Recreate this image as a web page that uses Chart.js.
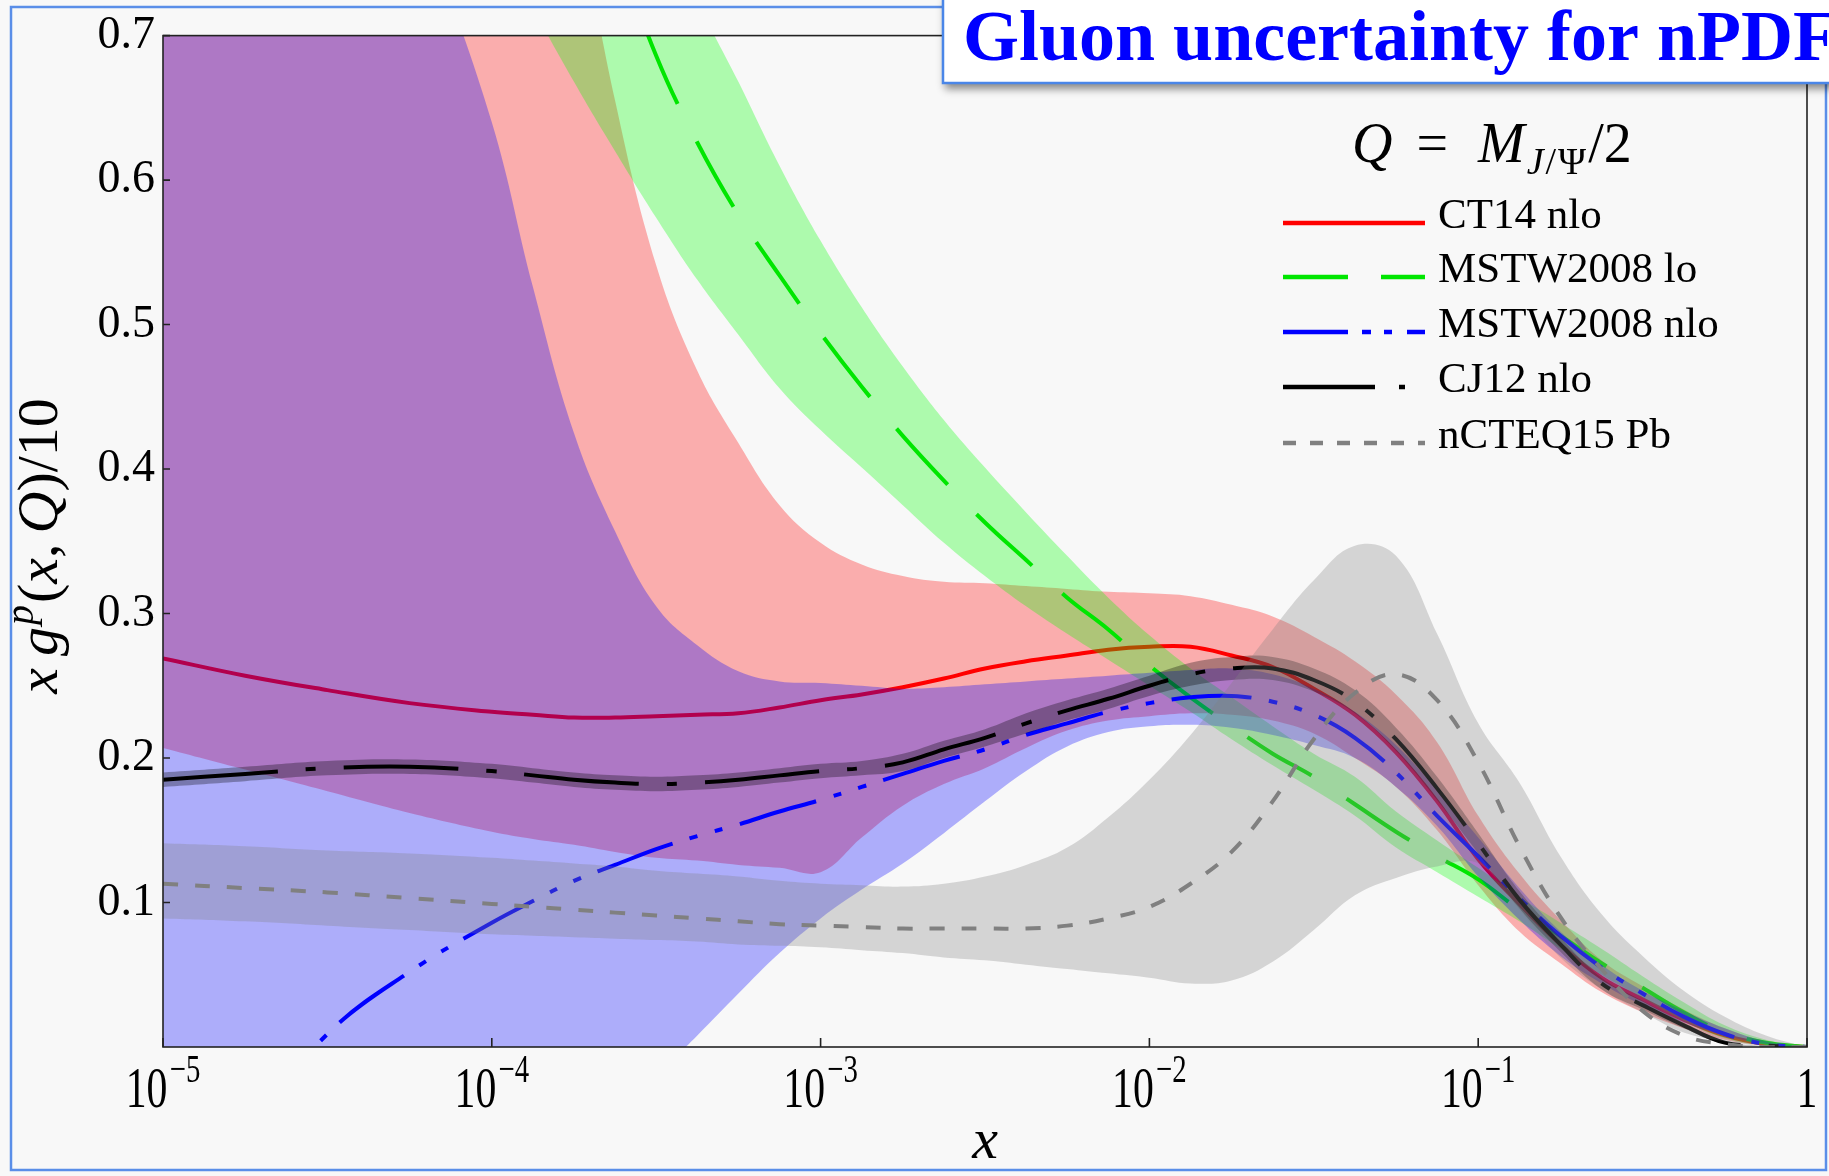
<!DOCTYPE html>
<html>
<head>
<meta charset="utf-8">
<title>Gluon uncertainty for nPDF</title>
<script src="https://cdn.jsdelivr.net/npm/chart.js@4.4.1/dist/chart.umd.min.js"></script>
<style>
  html, body { margin: 0; padding: 0; background: #f8f8f8; }
  #wrap { width: 1829px; height: 1176px; }
</style>
</head>
<body>
<div id="wrap"><canvas id="gluonChart" width="1829" height="1176"></canvas></div>
<script>
// x grid (momentum fraction), values at each x
const xGrid = [1e-5, 1.778e-5, 3.162e-5, 5.623e-5, 1e-4,
  1.334e-4, 1.778e-4, 2.371e-4, 3.162e-4, 4.217e-4, 5.623e-4, 7.499e-4, 1e-3,
  1.334e-3, 1.778e-3, 2.371e-3, 3.162e-3, 4.217e-3, 5.623e-3, 7.499e-3, 0.01,
  0.01334, 0.01778, 0.02371, 0.03162, 0.04217, 0.05623, 0.07499, 0.1,
  0.1334, 0.1778, 0.2371, 0.3162, 0.4217, 0.5623, 0.7499, 1];

const ct14 = [0.269, 0.257, 0.247, 0.238, 0.232,
  0.230, 0.228, 0.228, 0.229, 0.230, 0.231, 0.235, 0.240,
  0.244, 0.249, 0.255, 0.262, 0.267, 0.271, 0.275, 0.277,
  0.277, 0.271, 0.263, 0.248, 0.230, 0.204, 0.170, 0.130,
  0.099, 0.071, 0.048, 0.033, 0.019, 0.008, 0.002, 0];
const ct14Hi = [2.0, 1.75, 1.5, 1.28, 1.08,
  0.93, 0.80, 0.655, 0.541, 0.468, 0.418, 0.375, 0.349,
  0.334, 0.326, 0.322, 0.321, 0.319, 0.317, 0.315, 0.314,
  0.312, 0.306, 0.298, 0.284, 0.267, 0.244, 0.211, 0.160,
  0.120, 0.088, 0.060, 0.042, 0.026, 0.013, 0.004, 0];
const ct14Lo = [0.207, 0.192, 0.177, 0.162, 0.149,
  0.144, 0.140, 0.135, 0.131, 0.129, 0.126, 0.124, 0.121,
  0.145, 0.167, 0.182, 0.193, 0.207, 0.219, 0.226, 0.229,
  0.231, 0.230, 0.226, 0.217, 0.200, 0.180, 0.150, 0.112,
  0.080, 0.058, 0.038, 0.024, 0.013, 0.005, 0.001, 0];

const mstwLo = [2.2, 1.9, 1.6, 1.3, 1.06,
  0.95, 0.85, 0.765, 0.686, 0.626, 0.576, 0.534, 0.494,
  0.457, 0.423, 0.392, 0.363, 0.337, 0.311, 0.289, 0.264,
  0.242, 0.222, 0.203, 0.187, 0.168, 0.149, 0.132, 0.116,
  0.095, 0.077, 0.058, 0.041, 0.024, 0.010, 0.003, 0];
const mstwLoHi = [2.3, 2.0, 1.7, 1.42, 1.18,
  1.07, 0.97, 0.88, 0.80, 0.725, 0.668, 0.610, 0.558,
  0.512, 0.471, 0.434, 0.401, 0.370, 0.340, 0.311, 0.285,
  0.262, 0.242, 0.222, 0.203, 0.187, 0.163, 0.143, 0.124,
  0.104, 0.086, 0.068, 0.049, 0.031, 0.015, 0.005, 0];
const mstwLoLo = [1.35, 1.2, 1.05, 0.9, 0.78,
  0.72, 0.668, 0.62, 0.574, 0.531, 0.493, 0.456, 0.427,
  0.401, 0.375, 0.349, 0.326, 0.305, 0.286, 0.268, 0.250,
  0.232, 0.213, 0.195, 0.178, 0.160, 0.138, 0.121, 0.104,
  0.087, 0.068, 0.050, 0.034, 0.018, 0.006, 0.001, 0];

const mstwNlo = [-0.15, -0.06, 0.009, 0.052, 0.086,
  0.101, 0.115, 0.126, 0.137, 0.146, 0.154, 0.163, 0.171,
  0.180, 0.189, 0.198, 0.206, 0.216, 0.224, 0.232, 0.238,
  0.242, 0.243, 0.239, 0.230, 0.214, 0.190, 0.160, 0.132,
  0.103, 0.077, 0.055, 0.037, 0.021, 0.009, 0.002, 0];
const mstwNloHi = [1.6, 1.28, 1.02, 0.81, 0.64,
  0.526, 0.425, 0.357, 0.305, 0.278, 0.260, 0.253, 0.252,
  0.250, 0.248, 0.249, 0.251, 0.253, 0.255, 0.257, 0.259,
  0.261, 0.262, 0.258, 0.248, 0.232, 0.209, 0.178, 0.145,
  0.110, 0.080, 0.057, 0.039, 0.025, 0.013, 0.004, 0];
const mstwNloLo = [-0.36, -0.30, -0.25, -0.19, -0.133,
  -0.105, -0.077, -0.048, -0.02, 0.008, 0.037, 0.065, 0.089,
  0.109, 0.127, 0.148, 0.170, 0.191, 0.208, 0.218, 0.222,
  0.223, 0.221, 0.216, 0.209, 0.200, 0.180, 0.153, 0.118,
  0.088, 0.063, 0.044, 0.029, 0.017, 0.008, 0.002, 0];

const cj12 = [0.185, 0.189, 0.193, 0.194, 0.191,
  0.188, 0.185, 0.183, 0.182, 0.183, 0.185, 0.188, 0.191,
  0.193, 0.197, 0.206, 0.214, 0.224, 0.233, 0.241, 0.250,
  0.258, 0.262, 0.262, 0.254, 0.239, 0.213, 0.179, 0.141,
  0.102, 0.071, 0.044, 0.029, 0.015, 0.003, 0.001, 0];
const cj12Hi = [0.190, 0.194, 0.198, 0.199, 0.196,
  0.193, 0.190, 0.188, 0.187, 0.188, 0.190, 0.193, 0.196,
  0.198, 0.203, 0.212, 0.220, 0.231, 0.240, 0.248, 0.257,
  0.266, 0.270, 0.270, 0.262, 0.247, 0.221, 0.187, 0.148,
  0.108, 0.076, 0.048, 0.032, 0.017, 0.004, 0.001, 0];
const cj12Lo = [0.180, 0.184, 0.188, 0.189, 0.186,
  0.183, 0.180, 0.178, 0.177, 0.178, 0.180, 0.183, 0.186,
  0.188, 0.191, 0.200, 0.208, 0.217, 0.226, 0.234, 0.243,
  0.250, 0.254, 0.254, 0.246, 0.231, 0.205, 0.171, 0.134,
  0.096, 0.066, 0.040, 0.026, 0.013, 0.002, 0.001, 0];

const ncteq = [0.113, 0.110, 0.107, 0.103, 0.099,
  0.097, 0.095, 0.093, 0.091, 0.089, 0.087, 0.085, 0.084,
  0.083, 0.082, 0.082, 0.082, 0.082, 0.084, 0.089, 0.097,
  0.113, 0.135, 0.170, 0.213, 0.245, 0.258, 0.240, 0.197,
  0.139, 0.090, 0.054, 0.025, 0.008, 0.002, 0, 0];
const ncteqHi = [0.141, 0.139, 0.136, 0.134, 0.131,
  0.129, 0.127, 0.125, 0.122, 0.120, 0.118, 0.115, 0.113,
  0.112, 0.111, 0.113, 0.118, 0.126, 0.138, 0.159, 0.185,
  0.216, 0.252, 0.289, 0.323, 0.347, 0.340, 0.286, 0.224,
  0.183, 0.132, 0.092, 0.063, 0.039, 0.021, 0.008, 0];
const ncteqLo = [0.089, 0.087, 0.084, 0.081, 0.078,
  0.077, 0.076, 0.075, 0.074, 0.073, 0.071, 0.070, 0.069,
  0.067, 0.065, 0.062, 0.060, 0.057, 0.054, 0.051, 0.048,
  0.044, 0.046, 0.059, 0.081, 0.105, 0.117, 0.125, 0.127,
  0.095, 0.062, 0.040, 0.024, 0.010, 0.004, 0.001, 0];

const seriesNames = ["CT14 nlo", "MSTW2008 lo", "MSTW2008 nlo", "CJ12 nlo", "nCTEQ15 Pb"];
const xTickValues = [1e-5, 1e-4, 1e-3, 1e-2, 1e-1, 1];
const xTickExponents = ["5", "4", "3", "2", "1", ""];
const yTickValues = [0.1, 0.2, 0.3, 0.4, 0.5, 0.6, 0.7];

// styles, in drawing order (first one is at the bottom)
const styles = [
  { line: ct14, hi: ct14Hi, lo: ct14Lo, color: "#ff0000", band: "rgba(255,0,0,0.3)",
    dash: [], legendDash: [] },
  { line: mstwLo, hi: mstwLoHi, lo: mstwLoLo, color: "#00e600", band: "rgba(0,255,0,0.3)",
    dash: [75, 42], legendDash: [65, 33] },
  { line: mstwNlo, hi: mstwNloHi, lo: mstwNloLo, color: "#0000ff", band: "rgba(0,0,255,0.3)",
    dash: [80, 18, 8, 18, 8, 18], legendDash: [65, 14, 9, 13, 8, 15] },
  { line: cj12, hi: cj12Hi, lo: cj12Lo, color: "#000000", band: "rgba(0,0,0,0.3)",
    dash: [115, 28, 10, 28], legendDash: [92, 24, 6, 40] },
  { line: ncteq, hi: ncteqHi, lo: ncteqLo, color: "#808080", band: "rgba(128,128,128,0.3)",
    dash: [15, 17], legendDash: [13, 14] }
];

function toPoints(ys) {
  return xGrid.map((x, i) => ({ x: x, y: ys[i] }));
}

const datasets = [];
styles.forEach((s, k) => {
  const hiIndex = datasets.length;
  datasets.push({
    label: seriesNames[k] + " band",
    data: toPoints(s.hi),
    borderWidth: 0,
    borderColor: "transparent",
    backgroundColor: s.band,
    fill: hiIndex + 1,
    order: 50 - 2 * k
  });
  datasets.push({
    label: seriesNames[k] + " lower",
    data: toPoints(s.lo),
    borderWidth: 0,
    borderColor: "transparent",
    fill: false,
    order: 50 - 2 * k
  });
  datasets.push({
    label: seriesNames[k],
    data: toPoints(s.line),
    borderColor: s.color,
    borderWidth: 4,
    borderDash: s.dash,
    fill: false,
    order: 49 - 2 * k
  });
});

const SERIF = "'Liberation Serif', 'Times New Roman', serif";

function runsWidth(ctx, runs) {
  let w = 0;
  for (const r of runs) {
    ctx.font = r.font;
    w += (r.gap || 0) + ctx.measureText(r.t).width;
  }
  return w;
}

function drawRuns(ctx, runs, x, y) {
  let cx = x;
  for (const r of runs) {
    cx += r.gap || 0;
    ctx.font = r.font;
    ctx.fillText(r.t, cx, y + (r.dy || 0));
    cx += ctx.measureText(r.t).width;
  }
}

function drawPowerLabel(ctx, cx, baseY, exp) {
  const big = "58px " + SERIF;
  const small = "40px " + SERIF;
  const sx = 0.72;
  const base = exp ? "10" : "1";
  ctx.font = big;
  const wBase = ctx.measureText(base).width;
  let wSup = 0;
  if (exp) {
    ctx.font = small;
    wSup = ctx.measureText("\u2212" + exp).width + 3;
  }
  const total = (wBase + wSup) * sx;
  ctx.save();
  ctx.translate(cx - total / 2, baseY);
  ctx.scale(sx, 1);
  ctx.font = big;
  ctx.fillText(base, 0, 0);
  if (exp) {
    ctx.font = small;
    ctx.fillText("\u2212" + exp, wBase + 3, -25);
  }
  ctx.restore();
}

const decorPlugin = {
  id: "decor",
  beforeDraw(chart) {
    const ctx = chart.ctx;
    ctx.save();
    ctx.fillStyle = "#f8f8f8";
    ctx.fillRect(0, 0, chart.width, chart.height);
    ctx.restore();
  },
  afterDraw(chart) {
    const ctx = chart.ctx;
    const a = chart.chartArea;
    const xs = chart.scales.x;
    const ys = chart.scales.y;
    ctx.save();

    // outer slide frame
    ctx.strokeStyle = "#5a8ee8";
    ctx.lineWidth = 2.5;
    ctx.strokeRect(11, 7, 1815, 1163);

    // plot box and inward ticks
    ctx.strokeStyle = "#222";
    ctx.lineWidth = 1.6;
    ctx.strokeRect(a.left, a.top, a.right - a.left, a.bottom - a.top);
    ctx.beginPath();
    xTickValues.forEach(v => {
      const px = xs.getPixelForValue(v);
      ctx.moveTo(px, a.bottom);
      ctx.lineTo(px, a.bottom - 9);
    });
    yTickValues.forEach(v => {
      const py = ys.getPixelForValue(v);
      ctx.moveTo(a.left, py);
      ctx.lineTo(a.left + 7, py);
    });
    ctx.stroke();

    // x tick labels 10^-n
    ctx.fillStyle = "#000";
    ctx.textBaseline = "alphabetic";
    xTickValues.forEach((v, i) => {
      drawPowerLabel(ctx, xs.getPixelForValue(v), 1107, xTickExponents[i]);
    });

    // axis titles
    const it = "italic 58px " + SERIF;
    const up = "58px " + SERIF;
    ctx.font = it;
    ctx.textAlign = "center";
    ctx.fillText("x", (a.left + a.right) / 2, 1158);
    ctx.textAlign = "left";

    const yRuns = [
      { t: "x", font: it },
      { t: "g", font: it, gap: 12 },
      { t: "p", font: "italic 40px " + SERIF, dy: -24, gap: 2 },
      { t: "(", font: up, gap: 2 },
      { t: "x", font: it },
      { t: ",", font: up },
      { t: "Q", font: it, gap: 10 },
      { t: ")", font: up },
      { t: "/", font: up },
      { t: "10", font: up }
    ];
    ctx.save();
    ctx.translate(57, 546);
    ctx.rotate(-Math.PI / 2);
    drawRuns(ctx, yRuns, -runsWidth(ctx, yRuns) / 2, 0);
    ctx.restore();

    // legend title
    const lt = "italic 56px " + SERIF;
    const lu = "56px " + SERIF;
    const sub = "38px " + SERIF;
    const subIt = "italic 38px " + SERIF;
    drawRuns(ctx, [
      { t: "Q", font: lt },
      { t: "=", font: lu, gap: 24 },
      { t: "M", font: lt, gap: 30 },
      { t: "J", font: subIt, dy: 12, gap: 2 },
      { t: "/", font: sub, dy: 12, gap: 2 },
      { t: "\u03A8", font: sub, dy: 12, gap: 2 },
      { t: "/", font: lu, gap: 2 },
      { t: "2", font: lu }
    ], 1352, 162);

    // legend entries
    const rows = [223, 277, 332, 387, 443];
    ctx.font = "43px " + SERIF;
    styles.forEach((s, k) => {
      ctx.strokeStyle = s.color;
      ctx.lineWidth = 4.5;
      ctx.setLineDash(s.legendDash);
      ctx.beginPath();
      ctx.moveTo(1283, rows[k]);
      ctx.lineTo(1425, rows[k]);
      ctx.stroke();
      ctx.setLineDash([]);
      ctx.fillStyle = "#000";
      ctx.fillText(seriesNames[k], 1438, rows[k] + 5);
    });

    // title box
    ctx.save();
    ctx.shadowColor = "rgba(0,0,0,0.45)";
    ctx.shadowBlur = 8;
    ctx.shadowOffsetX = 2;
    ctx.shadowOffsetY = 6;
    ctx.fillStyle = "#ffffff";
    ctx.fillRect(943, -6, 900, 89);
    ctx.restore();
    ctx.strokeStyle = "#4a86e8";
    ctx.lineWidth = 2.5;
    ctx.strokeRect(943, -6, 900, 89);
    ctx.fillStyle = "#0000ff";
    ctx.font = "bold 72px " + SERIF;
    ctx.fillText("Gluon uncertainty for nPDF", 963, 60);

    ctx.restore();
  }
};

new Chart(document.getElementById("gluonChart"), {
  type: "line",
  data: { datasets: datasets },
  options: {
    responsive: false,
    animation: false,
    devicePixelRatio: 1,
    events: [],
    layout: { padding: { top: 35, right: 22, bottom: 0, left: 0 } },
    elements: {
      point: { radius: 0, hoverRadius: 0 },
      line: { tension: 0.4, capBezierPoints: false, borderCapStyle: "butt" }
    },
    plugins: {
      legend: { display: false },
      tooltip: { enabled: false },
      title: { display: false }
    },
    scales: {
      x: {
        type: "logarithmic",
        min: 1e-5,
        max: 1,
        grid: { display: false, drawTicks: false },
        border: { display: false },
        ticks: { display: false },
        afterFit: (scale) => { scale.height = 129; }
      },
      y: {
        type: "linear",
        min: 0,
        max: 0.7,
        grid: { display: false, drawTicks: false },
        border: { display: false },
        ticks: {
          stepSize: 0.1,
          padding: 8,
          color: "#000",
          font: { family: SERIF, size: 46 },
          callback: (v) => (v < 0.05 ? "" : Number(v).toFixed(1))
        },
        afterFit: (scale) => { scale.width = 163; }
      }
    }
  },
  plugins: [decorPlugin]
});
</script>
</body>
</html>
